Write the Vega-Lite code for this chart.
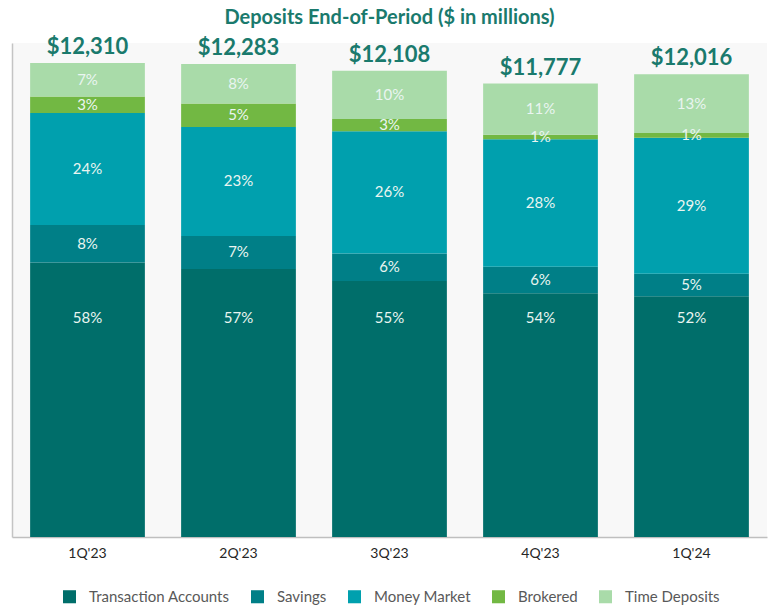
{
  "$schema": "https://vega.github.io/schema/vega-lite/v6.json",
  "width": 755,
  "height": 494,
  "autosize": {"type": "none"},
  "padding": {"left": 12, "top": 43, "right": 2, "bottom": 72},
  "background": "white",
  "view": {"fill": "#f8f8f8", "stroke": null},
  "config": {"font": "Lato"},
  "title": {
    "text": "Deposits End-of-Period ($ in millions)",
    "anchor": "middle",
    "fontSize": 20,
    "fontWeight": "bold",
    "color": "#1a7a6d",
    "offset": 8
  },
  "data": {
    "values": [
      {"quarter": "1Q'23", "category": "Transaction Accounts", "order": 1, "value": 7130, "pct": 0.58},
      {"quarter": "1Q'23", "category": "Savings", "order": 2, "value": 975, "pct": 0.08},
      {"quarter": "1Q'23", "category": "Money Market", "order": 3, "value": 2910, "pct": 0.24},
      {"quarter": "1Q'23", "category": "Brokered", "order": 4, "value": 425, "pct": 0.03},
      {"quarter": "1Q'23", "category": "Time Deposits", "order": 5, "value": 870, "pct": 0.07},
      {"quarter": "2Q'23", "category": "Transaction Accounts", "order": 1, "value": 6960, "pct": 0.57},
      {"quarter": "2Q'23", "category": "Savings", "order": 2, "value": 860, "pct": 0.07},
      {"quarter": "2Q'23", "category": "Money Market", "order": 3, "value": 2830, "pct": 0.23},
      {"quarter": "2Q'23", "category": "Brokered", "order": 4, "value": 610, "pct": 0.05},
      {"quarter": "2Q'23", "category": "Time Deposits", "order": 5, "value": 1023, "pct": 0.08},
      {"quarter": "3Q'23", "category": "Transaction Accounts", "order": 1, "value": 6650, "pct": 0.55},
      {"quarter": "3Q'23", "category": "Savings", "order": 2, "value": 715, "pct": 0.06},
      {"quarter": "3Q'23", "category": "Money Market", "order": 3, "value": 3170, "pct": 0.26},
      {"quarter": "3Q'23", "category": "Brokered", "order": 4, "value": 320, "pct": 0.03},
      {"quarter": "3Q'23", "category": "Time Deposits", "order": 5, "value": 1253, "pct": 0.10},
      {"quarter": "4Q'23", "category": "Transaction Accounts", "order": 1, "value": 6330, "pct": 0.54},
      {"quarter": "4Q'23", "category": "Savings", "order": 2, "value": 690, "pct": 0.06},
      {"quarter": "4Q'23", "category": "Money Market", "order": 3, "value": 3310, "pct": 0.28},
      {"quarter": "4Q'23", "category": "Brokered", "order": 4, "value": 120, "pct": 0.01},
      {"quarter": "4Q'23", "category": "Time Deposits", "order": 5, "value": 1327, "pct": 0.11},
      {"quarter": "1Q'24", "category": "Transaction Accounts", "order": 1, "value": 6250, "pct": 0.52},
      {"quarter": "1Q'24", "category": "Savings", "order": 2, "value": 590, "pct": 0.05},
      {"quarter": "1Q'24", "category": "Money Market", "order": 3, "value": 3530, "pct": 0.29},
      {"quarter": "1Q'24", "category": "Brokered", "order": 4, "value": 120, "pct": 0.01},
      {"quarter": "1Q'24", "category": "Time Deposits", "order": 5, "value": 1526, "pct": 0.13}
    ]
  },
  "encoding": {
    "x": {
      "field": "quarter",
      "type": "nominal",
      "sort": null,
      "scale": {"paddingInner": 0.24, "paddingOuter": 0.12},
      "axis": {
        "title": null,
        "labelAngle": 0,
        "labelFontSize": 14,
        "labelColor": "#262626",
        "labelPadding": 9,
        "ticks": false,
        "domainColor": "#bfbfbf",
        "domainWidth": 1.5
      }
    }
  },
  "layer": [
    {
      "mark": {"type": "bar"},
      "encoding": {
        "y": {
          "field": "value",
          "type": "quantitative",
          "stack": "zero",
          "scale": {"domain": [0, 12830], "nice": false},
          "axis": {
            "title": null,
            "labels": false,
            "ticks": false,
            "grid": false,
            "domainColor": "#c4c4c4",
            "domainWidth": 1.5
          }
        },
        "color": {
          "field": "category",
          "type": "nominal",
          "scale": {
            "domain": ["Transaction Accounts", "Savings", "Money Market", "Brokered", "Time Deposits"],
            "range": ["#006e6a", "#007f87", "#00a0ae", "#72b843", "#a9dba9"]
          },
          "legend": {
            "title": null,
            "orient": "none",
            "legendX": 50,
            "legendY": 546,
            "direction": "horizontal",
            "symbolType": "square",
            "symbolSize": 170,
            "symbolStrokeWidth": 0,
            "labelFontSize": 15,
            "labelColor": "#595959",
            "labelOffset": 12,
            "columnPadding": 20
          }
        },
        "order": {"field": "order", "type": "quantitative"}
      }
    },
    {
      "transform": [
        {"stack": "value", "groupby": ["quarter"], "sort": [{"field": "order", "order": "ascending"}], "as": ["y0", "y1"]},
        {"calculate": "(datum.y0 + datum.y1) / 2", "as": "mid"},
        {"filter": "datum.category !== 'Transaction Accounts'"}
      ],
      "mark": {"type": "text", "fontSize": 15, "color": "#eaf5f1", "baseline": "middle"},
      "encoding": {
        "y": {"field": "mid", "type": "quantitative"},
        "text": {"field": "pct", "type": "quantitative", "format": ".0%"}
      }
    },
    {
      "transform": [
        {"filter": "datum.category === 'Transaction Accounts'"}
      ],
      "mark": {"type": "text", "fontSize": 15, "color": "#eaf5f1", "baseline": "middle"},
      "encoding": {
        "y": {"datum": 5700, "type": "quantitative"},
        "text": {"field": "pct", "type": "quantitative", "format": ".0%"}
      }
    },
    {
      "mark": {"type": "text", "fontSize": 22, "fontWeight": "bold", "color": "#1a7a6d", "baseline": "alphabetic", "dy": -9},
      "encoding": {
        "y": {"aggregate": "sum", "field": "value", "type": "quantitative"},
        "text": {"aggregate": "sum", "field": "value", "type": "quantitative", "format": "$,.0f"}
      }
    }
  ]
}
